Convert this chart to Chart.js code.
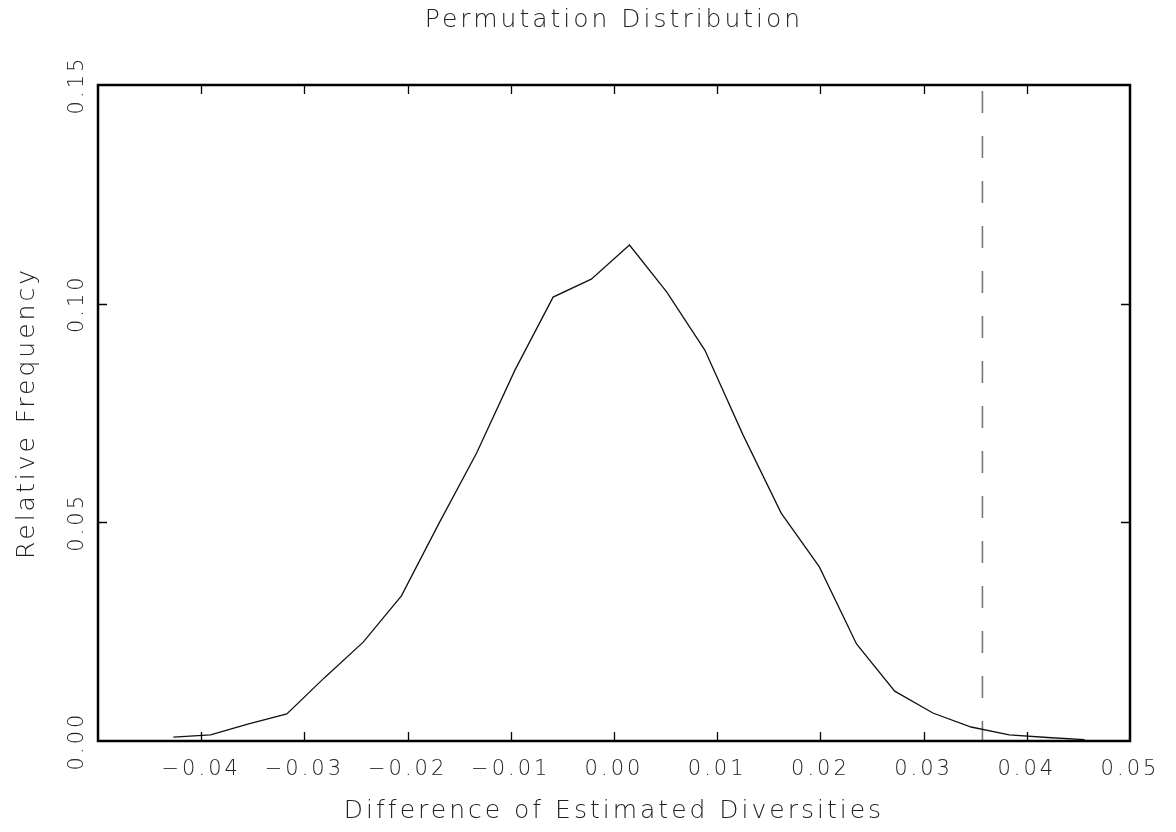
<!DOCTYPE html>
<html>
<head>
<meta charset="utf-8">
<script src="https://cdn.jsdelivr.net/npm/chart.js@4/dist/chart.umd.min.js"></script>
<style>
  html, body { margin: 0; padding: 0; background: #fff; }
  canvas { display: block; }
</style>
</head>
<body>
<canvas id="c" width="1176" height="832"></canvas>
<script>
// ---- data ----
const differences = [-0.0427, -0.0391, -0.0354, -0.0317, -0.0280, -0.0243, -0.0206, -0.0170, -0.0133, -0.0096,
                     -0.0059, -0.0022, 0.0015, 0.0051, 0.0088, 0.0125, 0.0162, 0.0199, 0.0235, 0.0272,
                     0.0309, 0.0346, 0.0383, 0.0420, 0.0456];
const relFrequency = [0.0009, 0.0014, 0.0039, 0.0062, 0.0146, 0.0226, 0.0332, 0.0496, 0.0659, 0.0848,
                      0.1015, 0.1056, 0.1134, 0.1027, 0.0894, 0.0700, 0.0521, 0.0398, 0.0222, 0.0114,
                      0.0064, 0.0032, 0.0014, 0.0008, 0.0003];
const observedDifference = 0.0357;
const xTickValues = [-0.05, -0.04, -0.03, -0.02, -0.01, 0.00, 0.01, 0.02, 0.03, 0.04, 0.05];
const yTickValues = [0.00, 0.05, 0.10, 0.15];
const titleText = 'Permutation Distribution';
const xTitle = 'Difference of Estimated Diversities';
const yTitle = 'Relative Frequency';

const FONT_FAMILY = '"DejaVu Sans", sans-serif';
const TEXT_COLOR = '#222';
const LETTER_SPACING = '3px';

function fmt(v) {
  const s = Math.abs(v).toFixed(2);
  return (v < -1e-9 ? '\u2212' : '') + s;
}

const spacingPlugin = {
  id: 'spacing',
  beforeUpdate(chart) { chart.ctx.letterSpacing = LETTER_SPACING; },
  beforeLayout(chart) { chart.ctx.letterSpacing = LETTER_SPACING; },
  beforeDraw(chart) { chart.ctx.letterSpacing = LETTER_SPACING; }
};

const framePlugin = {
  id: 'frame',
  afterDraw(chart) {
    const {ctx, chartArea: a, scales: {x, y}} = chart;
    ctx.save();
    ctx.strokeStyle = '#000';
    ctx.lineWidth = 1.3;
    const tl = 9;
    ctx.beginPath();
    xTickValues.forEach(v => {
      const px = Math.round(x.getPixelForValue(v)) + 0.5;
      if (px <= a.left + 2 || px >= a.right - 2) return;
      ctx.moveTo(px, a.bottom); ctx.lineTo(px, a.bottom - tl);
      ctx.moveTo(px, a.top); ctx.lineTo(px, a.top + tl);
    });
    yTickValues.forEach(v => {
      const py = Math.round(y.getPixelForValue(v)) + 0.5;
      if (py <= a.top + 2 || py >= a.bottom - 2) return;
      ctx.moveTo(a.left, py); ctx.lineTo(a.left + tl, py);
      ctx.moveTo(a.right, py); ctx.lineTo(a.right - tl, py);
    });
    ctx.stroke();
    ctx.lineWidth = 2.5;
    ctx.strokeRect(a.left, a.top, a.right - a.left, a.bottom - a.top);
    ctx.restore();
  }
};

new Chart(document.getElementById('c'), {
  type: 'scatter',
  data: {
    datasets: [
      {
        data: differences.map((d, i) => ({x: d, y: relFrequency[i]})),
        showLine: true,
        borderColor: '#111',
        borderWidth: 1.3,
        pointRadius: 0,
        tension: 0
      },
      {
        data: [{x: observedDifference, y: 0.15}, {x: observedDifference, y: 0}],
        showLine: true,
        borderColor: '#777',
        borderWidth: 1.6,
        borderDash: [22, 23],
        borderDashOffset: 39,
        pointRadius: 0
      }
    ]
  },
  options: {
    responsive: false,
    animation: false,
    devicePixelRatio: 1,
    layout: { padding: { left: 0, right: 46, top: 0, bottom: 0 } },
    plugins: {
      legend: { display: false },
      tooltip: { enabled: false },
      title: {
        display: true,
        text: titleText,
        fullSize: false,
        color: TEXT_COLOR,
        font: { family: FONT_FAMILY, size: 25, weight: 200, lineHeight: 1.2 },
        padding: { top: 5, bottom: 50 }
      }
    },
    scales: {
      x: {
        type: 'linear',
        min: -0.05, max: 0.05,
        afterFit(s) { s.height = 91; },
        afterBuildTicks(s) { s.ticks = xTickValues.map(v => ({value: v})); },
        grid: { display: false, drawTicks: false },
        border: { display: false },
        ticks: {
          autoSkip: false, maxRotation: 0, minRotation: 0,
          padding: 16,
          color: TEXT_COLOR,
          font: { family: FONT_FAMILY, size: 21, weight: 200 },
          callback: v => (Math.abs(v + 0.05) < 1e-9 ? '' : fmt(v))
        },
        title: {
          display: true, text: xTitle, color: TEXT_COLOR,
          font: { family: FONT_FAMILY, size: 25, weight: 200, lineHeight: 1.2 },
          padding: { top: 0, bottom: 6 }
        }
      },
      y: {
        type: 'linear',
        min: 0, max: 0.15,
        afterFit(s) { s.width = 98; },
        afterBuildTicks(s) { s.ticks = yTickValues.map(v => ({value: v})); },
        grid: { display: false, drawTicks: false },
        border: { display: false },
        ticks: {
          autoSkip: false, minRotation: 90, maxRotation: 90,
          crossAlign: 'center',
          padding: -9,
          color: TEXT_COLOR,
          font: { family: FONT_FAMILY, size: 21, weight: 200 },
          callback: v => fmt(v)
        },
        title: {
          display: true, text: yTitle, color: TEXT_COLOR,
          font: { family: FONT_FAMILY, size: 25, weight: 200, lineHeight: 1.2 },
          padding: { top: 12, bottom: 0 }
        }
      }
    }
  },
  plugins: [spacingPlugin, framePlugin]
});
</script>
</body>
</html>
